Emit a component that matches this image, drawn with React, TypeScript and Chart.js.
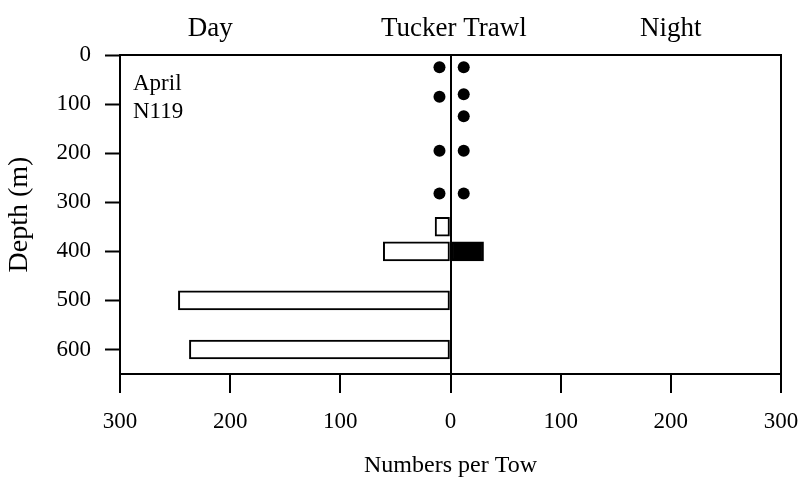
import { useEffect, useRef } from "react";
import { Chart, registerables } from "chart.js";

Chart.register(...registerables);

// Tucker trawl catches, April, station N119
const dayDepths = [350, 400, 500, 600];
const dayCounts = [14, 61, 247, 237];
const nightDepths = [400];
const nightCounts = [30];

// depths fished with no catch (shown as dots beside the zero line)
const dayNoCatchDepths = [25, 85, 195, 282];
const nightNoCatchDepths = [25, 80, 125, 195, 282];
const dayMarkerX = -10;
const nightMarkerX = 12;

const depthTicks = [0, 100, 200, 300, 400, 500, 600];
const countTicks = [-300, -200, -100, 0, 100, 200, 300];

const FONT = "'Liberation Serif', 'Times New Roman', serif";

const panelText = {
  id: "panelText",
  afterDraw(chart: any) {
    const { ctx, chartArea, scales } = chart;
    const xs = scales.x;
    ctx.save();
    ctx.strokeStyle = "#000";
    ctx.lineWidth = 2;
    ctx.strokeRect(chartArea.left, chartArea.top, chartArea.right - chartArea.left, chartArea.bottom - chartArea.top);

    ctx.fillStyle = "#000";
    ctx.textBaseline = "alphabetic";
    ctx.textAlign = "center";
    ctx.font = `27px ${FONT}`;
    const headY = chartArea.top - 19;
    ctx.fillText("Day", xs.getPixelForValue(-218), headY);
    ctx.fillText("Tucker Trawl", xs.getPixelForValue(3), headY);
    ctx.fillText("Night", xs.getPixelForValue(200), headY);

    ctx.textAlign = "left";
    ctx.font = `23px ${FONT}`;
    ctx.fillText("April", chartArea.left + 13, chartArea.top + 35);
    ctx.fillText("N119", chartArea.left + 13, chartArea.top + 63);
    ctx.restore();
  },
};

export default function App() {
  const ref = useRef<HTMLCanvasElement>(null);

  useEffect(() => {
    const chart = new Chart(ref.current as HTMLCanvasElement, {
      type: "bar",
      data: {
        datasets: [
          {
            type: "bar",
            label: "Day",
            data: dayDepths.map((d, i) => ({ x: -dayCounts[i], y: d })),
            backgroundColor: "#fff",
            borderColor: "#000",
            borderWidth: 2,
            borderSkipped: false,
            barThickness: 19,
            grouped: false,
          } as any,
          {
            type: "bar",
            label: "Night",
            data: nightDepths.map((d, i) => ({ x: nightCounts[i], y: d })),
            backgroundColor: "#000",
            borderColor: "#000",
            borderWidth: 2,
            borderSkipped: false,
            barThickness: 19,
            grouped: false,
          } as any,
          {
            type: "scatter",
            label: "Day, none caught",
            data: dayNoCatchDepths.map((d) => ({ x: dayMarkerX, y: d })),
            pointRadius: 6,
            pointBackgroundColor: "#000",
            pointBorderWidth: 0,
          } as any,
          {
            type: "scatter",
            label: "Night, none caught",
            data: nightNoCatchDepths.map((d) => ({ x: nightMarkerX, y: d })),
            pointRadius: 6,
            pointBackgroundColor: "#000",
            pointBorderWidth: 0,
          } as any,
        ],
      },
      options: {
        indexAxis: "y",
        animation: false,
        responsive: true,
        maintainAspectRatio: false,
        layout: { padding: { top: 55, right: 22, bottom: 0, left: 0 } },
        plugins: {
          legend: { display: false },
          tooltip: { enabled: false },
        },
        scales: {
          x: {
            type: "linear",
            position: "bottom",
            min: -300,
            max: 300,
            offset: false,
            afterBuildTicks: (s: any) => {
              s.ticks = countTicks.map((v) => ({ value: v }));
            },
            afterFit: (s: any) => {
              s.height = 106;
              s.paddingLeft = 0;
              s.paddingRight = 0;
            },
            ticks: {
              color: "#000",
              font: { family: FONT, size: 23 },
              padding: 15,
              maxRotation: 0,
              callback: (v: any) => String(Math.abs(Number(v))),
            },
            grid: {
              offset: false,
              drawOnChartArea: true,
              drawTicks: true,
              tickLength: 19,
              tickColor: "#000",
              tickWidth: 2,
              lineWidth: 2,
              color: (c: any) => (c.tick && c.tick.value === 0 ? "#000" : "rgba(0,0,0,0)"),
            },
            border: { display: true, color: "#000", width: 2 },
            title: {
              display: true,
              text: "Numbers per Tow",
              color: "#000",
              font: { family: FONT, size: 24 },
              padding: { top: 0, bottom: 0 },
            },
          },
          y: {
            type: "linear",
            position: "left",
            reverse: true,
            min: 0,
            max: 650,
            offset: false,
            afterBuildTicks: (s: any) => {
              s.ticks = depthTicks.map((v) => ({ value: v }));
            },
            afterFit: (s: any) => {
              s.width = 120;
              s.paddingTop = 0;
              s.paddingBottom = 0;
            },
            ticks: {
              color: "#000",
              font: { family: FONT, size: 23 },
              padding: 14,
            },
            grid: {
              offset: false,
              drawOnChartArea: false,
              drawTicks: true,
              tickLength: 15,
              tickColor: "#000",
              tickWidth: 2,
            },
            border: { display: true, color: "#000", width: 2 },
            title: {
              display: true,
              text: "Depth (m)",
              color: "#000",
              font: { family: FONT, size: 28 },
              padding: { top: 3, bottom: 0 },
            },
          },
        },
      },
      plugins: [panelText],
    });
    return () => chart.destroy();
  }, []);

  return (
    <div style={{ position: "fixed", left: 0, top: 0, width: 803, height: 480, background: "#fff" }}>
      <canvas ref={ref} />
    </div>
  );
}
